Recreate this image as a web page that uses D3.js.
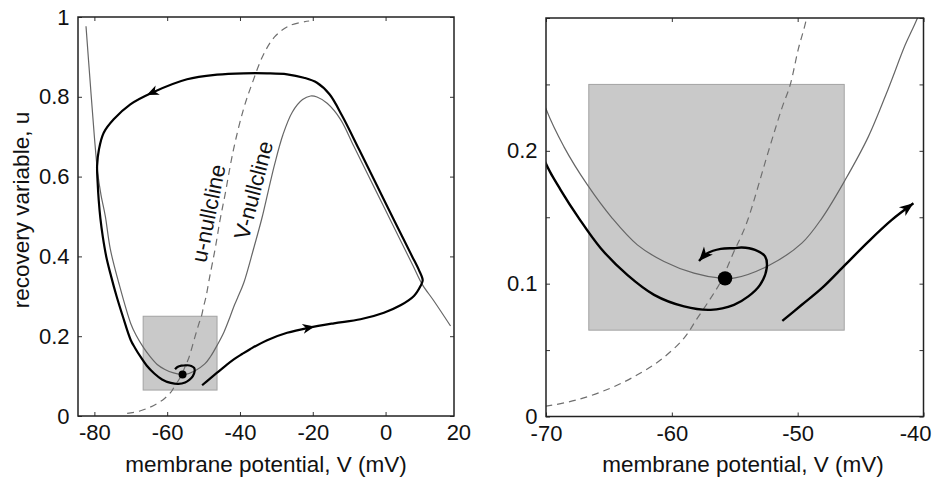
<!DOCTYPE html>
<html>
<head>
<meta charset="utf-8">
<script src="https://cdn.jsdelivr.net/npm/d3@7"></script>
<style>
  body { margin: 0; background: #fff; }
  text { font-family: "Liberation Sans", Arial, Helvetica, sans-serif; fill: #111; }
</style>
</head>
<body>
<svg id="fig" width="935" height="478"></svg>
<script>
// ---- data: phase plane of a two-variable neuron model (V in mV, u dimensionless) ----

// tick values
const leftXTicks = [-80, -60, -40, -20, 0, 20];
const leftYTicks = [0, 0.2, 0.4, 0.6, 0.8, 1];
const rightXTicks = [-70, -60, -50, -40];
const rightYTicks = [0, 0.05, 0.1, 0.15, 0.2, 0.25, 0.3];
const rightYLabelled = [0, 0.1, 0.2];

// V-nullcline (thin grey curve), [V, u]
const vNullcline = [
  [-82.3, 0.977], [-81.1, 0.83], [-80.0, 0.70], [-79.1, 0.61], [-78.2, 0.555],
  [-77.0, 0.501], [-75.62, 0.418], [-73.31, 0.334], [-70.02, 0.232], [-68.57, 0.203],
  [-66.72, 0.1745], [-64.73, 0.1492], [-62.74, 0.1292], [-60.62, 0.1167], [-58.24, 0.1079],
  [-56.11, 0.1041], [-54.98, 0.1043], [-52.33, 0.1135], [-49.67, 0.1305], [-48.08, 0.1492],
  [-46.23, 0.178], [-44.38, 0.2107], [-42.79, 0.247], [-41.46, 0.2796], [-40.67, 0.2959],
  [-38.95, 0.334], [-36.3, 0.418], [-34.0, 0.495], [-32.2, 0.565], [-30.5, 0.630],
  [-28.2, 0.705], [-25.6, 0.762], [-22.8, 0.793], [-20.6, 0.802], [-18.84, 0.7995],
  [-16.05, 0.7837], [-12.39, 0.7436], [-8.75, 0.6767], [-4.67, 0.6015], [-0.58, 0.5263],
  [4.41, 0.4343], [7.58, 0.3759], [10.07, 0.33], [13.29, 0.2882], [17.85, 0.2256]
];

// u-nullcline (dashed curve), [V, u]
const uNullcline = [
  [-71.0, 0.0065], [-70.02, 0.0077], [-67.51, 0.0126], [-64.86, 0.0214], [-62.74, 0.0314],
  [-60.88, 0.0427], [-59.03, 0.059], [-57.97, 0.0741], [-56.91, 0.0891], [-56.11, 0.1016],
  [-55.06, 0.1242], [-54.44, 0.1367], [-53.92, 0.1492], [-52.33, 0.1994], [-51.26, 0.232],
  [-50.6, 0.2495], [-49.94, 0.277], [-49.36, 0.2971], [-48.4, 0.345], [-46.8, 0.42],
  [-45.5, 0.49], [-44.1, 0.555], [-41.8, 0.667], [-39.0, 0.77], [-36.4, 0.84],
  [-33.6, 0.905], [-30.5, 0.95], [-26.5, 0.978], [-21.0, 0.99]
];

// trajectory (full excursion), in three consecutive pieces
const trajRise = [
  [-50.4, 0.077], [-48.4, 0.0925], [-46.29, 0.1085], [-44.0, 0.1258], [-41.7, 0.142],
  [-39.4, 0.1555], [-37.13, 0.168], [-32.54, 0.190], [-27.04, 0.2085]
];
const trajSpike = [
  [-21.08, 0.2213], [-14.2, 0.2323], [-6.89, 0.2424], [-0.46, 0.2589], [4.11, 0.2774],
  [7.79, 0.3008], [9.6, 0.3258], [10.2, 0.34], [9.2, 0.365], [7.3, 0.40],
  [4.95, 0.4429], [2.2, 0.493], [-2.3, 0.5764], [-7.3, 0.6684], [-11.9, 0.7519],
  [-15.4, 0.8063], [-18.84, 0.8353], [-22.45, 0.8479], [-27.04, 0.8564], [-32.54, 0.8589],
  [-38.95, 0.8589], [-46.29, 0.8554], [-54.53, 0.8439], [-64.16, 0.8103], [-70.12, 0.7812],
  [-74.69, 0.7436], [-77.43, 0.71], [-78.75, 0.668]
];
const trajReturn = [
  [-79.25, 0.627], [-79.1, 0.585], [-78.8, 0.54], [-78.35, 0.495], [-77.7, 0.45],
  [-76.75, 0.40], [-75.4, 0.35], [-73.9, 0.30], [-72.2, 0.25], [-70.02, 0.1906],
  [-68.83, 0.1705], [-67.38, 0.1492], [-65.65, 0.1267], [-63.54, 0.1066], [-61.41, 0.0916],
  [-59.03, 0.0829], [-56.91, 0.0803], [-55.06, 0.0841], [-53.92, 0.0904], [-52.99, 0.0991],
  [-52.46, 0.1117], [-52.59, 0.1205], [-53.39, 0.1254], [-54.44, 0.1272], [-55.06, 0.1267],
  [-56.11, 0.1262], [-57.18, 0.1229], [-57.84, 0.1171]
];

// departure from the shaded region as drawn in the enlargement, ending in an arrow
const riseDetail = [
  [-51.22, 0.072], [-49.67, 0.0841], [-48.08, 0.0966], [-46.23, 0.1141],
  [-44.38, 0.1317], [-42.52, 0.148], [-40.8, 0.1605]
];

// direction arrows drawn on the full trajectory
const trajArrows = [[-21.08, 0.2213], [-64.16, 0.8103]];

// resting state (stable equilibrium)
const restState = [-55.77, 0.104];

// shaded region enlarged in the right panel
const zoomBoxV = [-66.6, -46.3];
const zoomBoxU = [0.065, 0.25];

// ---- drawing ----
const W = 935, H = 478;
const svg = d3.select("#fig");
svg.append("rect").attr("width", W).attr("height", H).attr("fill", "#fff");

const TICK_FONT = 22, TITLE_FONT = 22.5;
const line = (x, y) => d3.line().x(d => x(d[0])).y(d => y(d[1])).curve(d3.curveCatmullRom.alpha(0.5));

function arrowHead(layer, pathNode, target, len, wid, atEnd) {
  const total = pathNode.getTotalLength();
  let L = total;
  if (!atEnd) {
    let best = Infinity;
    for (let s = 0; s <= total; s += 0.5) {
      const p = pathNode.getPointAtLength(s);
      const dd = (p.x - target[0]) ** 2 + (p.y - target[1]) ** 2;
      if (dd < best) { best = dd; L = s; }
    }
  }
  const p = pathNode.getPointAtLength(L);
  const a = pathNode.getPointAtLength(Math.max(0, L - 2.5));
  const b = pathNode.getPointAtLength(Math.min(total, L + 2.5));
  let dx = b.x - a.x, dy = b.y - a.y;
  const n = Math.hypot(dx, dy) || 1; dx /= n; dy /= n;
  const tip = atEnd ? [p.x, p.y] : [p.x + dx * len * 0.5, p.y + dy * len * 0.5];
  const base = [tip[0] - dx * len, tip[1] - dy * len];
  const notch = [tip[0] - dx * len * 0.72, tip[1] - dy * len * 0.72];
  const b1 = [base[0] - dy * wid / 2, base[1] + dx * wid / 2];
  const b2 = [base[0] + dy * wid / 2, base[1] - dx * wid / 2];
  layer.append("path")
    .attr("d", `M${tip}L${b1}L${notch}L${b2}Z`)
    .attr("fill", "#000");
}

function panel(cfg) {
  const x = d3.scaleLinear().domain(cfg.xDom).range(cfg.xRange);
  const y = d3.scaleLinear().domain(cfg.yDom).range(cfg.yRange);
  const [x0, x1] = cfg.xRange, [y0, y1] = cfg.yRange;
  const g = svg.append("g");

  svg.append("clipPath").attr("id", cfg.id)
    .append("rect").attr("x", x0).attr("y", y1).attr("width", x1 - x0).attr("height", y0 - y1);
  const plot = g.append("g").attr("clip-path", `url(#${cfg.id})`);

  // shaded region
  plot.append("rect")
    .attr("x", x(zoomBoxV[0])).attr("y", y(zoomBoxU[1]))
    .attr("width", x(zoomBoxV[1]) - x(zoomBoxV[0]))
    .attr("height", y(zoomBoxU[0]) - y(zoomBoxU[1]))
    .attr("fill", "#c9c9c9").attr("stroke", "#a3a3a3").attr("stroke-width", 1);

  // nullclines
  plot.append("path").attr("d", line(x, y)(uNullcline))
    .attr("fill", "none").attr("stroke", "#6f6f6f").attr("stroke-width", 1.2)
    .attr("stroke-dasharray", "7,5");
  plot.append("path").attr("d", line(x, y)(vNullcline))
    .attr("fill", "none").attr("stroke", "#666").attr("stroke-width", 1.2);

  // axes (ticks point inward on all four sides)
  const ax = g.append("g").attr("class", "axes");
  const inRange = v => v >= cfg.xDom[0] - 1e-9 && v <= cfg.xDom[1] + 1e-9;
  const bottom = ax.append("g").attr("transform", `translate(0,${y0})`)
    .call(d3.axisBottom(x).tickValues(cfg.xTicks).tickSize(-4).tickPadding(8.5)
      .tickFormat(d => String(d)));
  const top = ax.append("g").attr("transform", `translate(0,${y1})`)
    .call(d3.axisTop(x).tickValues(cfg.xTicks.filter(inRange)).tickSize(-4).tickFormat(""));
  const left = ax.append("g").attr("transform", `translate(${x0},0)`)
    .call(d3.axisLeft(y).tickValues(cfg.yTicks).tickSize(-4).tickPadding(8.5)
      .tickFormat(d => cfg.yLabelled.some(v => Math.abs(v - d) < 1e-9) ? String(+d.toFixed(2)) : ""));
  const right = ax.append("g").attr("transform", `translate(${x1},0)`)
    .call(d3.axisRight(y).tickValues(cfg.yTicks).tickSize(-4).tickFormat(""));
  [bottom, top, left, right].forEach(a => {
    a.select(".domain").remove();
    a.selectAll(".tick line").attr("stroke", "#333").attr("stroke-width", 1);
    a.selectAll(".tick text").attr("font-size", TICK_FONT).attr("fill", "#111")
      .attr("font-family", "'Liberation Sans', Arial, sans-serif");
  });
  bottom.selectAll(".tick").filter(d => !inRange(d)).select("line").remove();
  // keep tick labels inside the figure
  bottom.selectAll(".tick").each(function (d) {
    const t = d3.select(this).select("text");
    const w = t.node().getComputedTextLength();
    const over = x(d) + w / 2 - (W - 4);
    if (over > 0) t.attr("x", -over);
  });

  g.append("rect").attr("x", x0).attr("y", y1).attr("width", x1 - x0).attr("height", y0 - y1)
    .attr("fill", "none").attr("stroke", "#222").attr("stroke-width", 1.5);

  // x axis title
  g.append("text").attr("x", cfg.titleX).attr("y", 472).attr("text-anchor", "middle")
    .attr("font-size", TITLE_FONT).text("membrane potential, V (mV)");

  return { x, y, plot, g };
}

// left: full phase portrait
const L = panel({
  id: "clipL", xDom: [-84.5, 18.8], xRange: [78, 454], yDom: [0, 1], yRange: [416, 17],
  xTicks: leftXTicks, yTicks: leftYTicks, yLabelled: leftYTicks, titleX: 266
});
const fullTraj = trajRise.concat(trajSpike, trajReturn);
const pL = L.plot.append("path").attr("d", line(L.x, L.y)(fullTraj))
  .attr("fill", "none").attr("stroke", "#000").attr("stroke-width", 2.2)
  .attr("stroke-linejoin", "round");
trajArrows.forEach(a => arrowHead(L.plot, pL.node(), [L.x(a[0]), L.y(a[1])], 12, 10, false));
L.plot.append("circle").attr("cx", L.x(restState[0])).attr("cy", L.y(restState[1]))
  .attr("r", 4).attr("fill", "#000");

L.g.append("text").attr("transform", "translate(29,210) rotate(-90)")
  .attr("text-anchor", "middle").attr("font-size", TITLE_FONT).text("recovery variable, u");

// nullcline labels, placed along the curves
[["u-nullcline", [-48.7, 0.508], -78.5], ["V-nullcline", [-36.31, 0.566], -75.6]]
  .forEach(([txt, p, rot]) => {
    L.g.append("text")
      .attr("transform", `translate(${L.x(p[0])},${L.y(p[1])}) rotate(${rot})`)
      .attr("text-anchor", "middle").attr("dy", "0.35em").attr("font-size", 22).text(txt);
  });

// right: enlargement of the shaded region
const R = panel({
  id: "clipR", xDom: [-70, -40], xRange: [546, 923.5], yDom: [0, 0.3], yRange: [416.5, 18],
  xTicks: rightXTicks, yTicks: rightYTicks, yLabelled: rightYLabelled, titleX: 743
});
const pR1 = R.plot.append("path").attr("d", line(R.x, R.y)(riseDetail))
  .attr("fill", "none").attr("stroke", "#000").attr("stroke-width", 2.4);
arrowHead(R.plot, pR1.node(), null, 14, 11, true);
const pR2 = R.plot.append("path").attr("d", line(R.x, R.y)(trajReturn))
  .attr("fill", "none").attr("stroke", "#000").attr("stroke-width", 2.4);
arrowHead(R.plot, pR2.node(), null, 14, 12, true);
R.plot.append("circle").attr("cx", R.x(restState[0])).attr("cy", R.y(restState[1]))
  .attr("r", 7.2).attr("fill", "#000");
</script>
</body>
</html>
